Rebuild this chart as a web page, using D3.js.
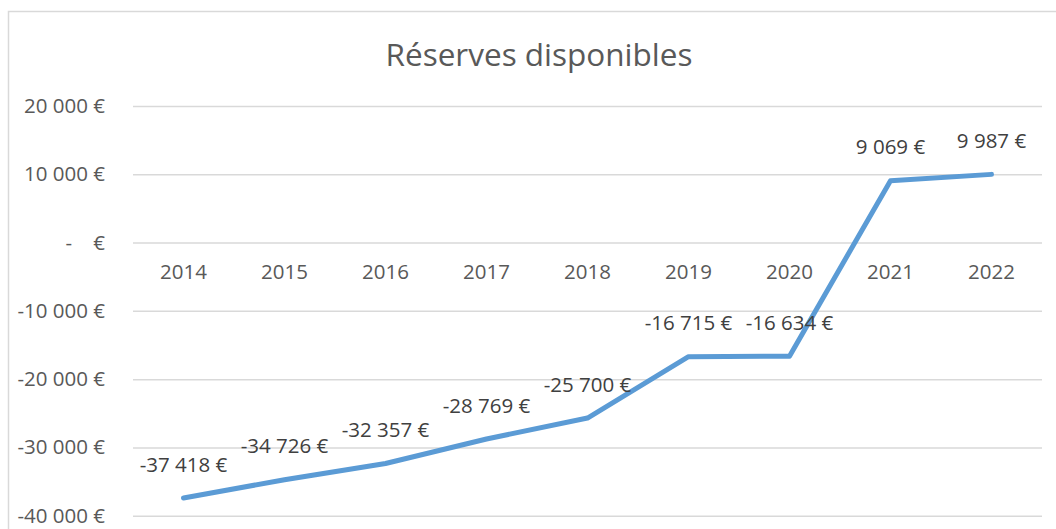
<!DOCTYPE html>
<html>
<head>
<meta charset="utf-8">
<script src="https://cdn.jsdelivr.net/npm/d3@7"></script>
<style>
  html, body { margin: 0; padding: 0; background: #fff; }
  svg { display: block; font-family: "Open Sans", sans-serif; }
</style>
</head>
<body>
<svg id="chart" width="1056" height="529"></svg>
<script>
// chart data
const years = ["2014", "2015", "2016", "2017", "2018", "2019", "2020", "2021", "2022"];
const reserves = [-37418, -34726, -32357, -28769, -25700, -16715, -16634, 9069, 9987];
const yTicks = [-40000, -30000, -20000, -10000, 0, 10000, 20000];
const chartTitle = "Réserves disponibles";

const svg = d3.select("#chart");
const W = 1056, H = 529;
const plot = { left: 133, right: 1042, top: 106, bottom: 515.7 };

// outer chart border (cut off at right/bottom like the reference)
svg.append("rect")
    .attr("x", 8.5).attr("y", 11.5)
    .attr("width", W).attr("height", H)
    .attr("fill", "#fff")
    .attr("stroke", "#d9d9d9")
    .attr("stroke-width", 1.5);

svg.append("text")
    .attr("x", 539).attr("y", 66)
    .attr("text-anchor", "middle")
    .attr("font-size", "31.5px")
    .attr("fill", "#595959")
    .text(chartTitle);

const x = d3.scaleBand()
    .domain(years)
    .range([plot.left, plot.right]);

const y = d3.scaleLinear()
    .domain([-40000, 20000])
    .range([plot.bottom, plot.top]);

// number format with a space as thousands separator
const fr = d3.formatLocale({ decimal: ",", thousands: "\u00a0", grouping: [3], currency: ["", " €"] });
const fmt = v => v === 0 ? "-\u00a0\u00a0\u00a0\u00a0€" : fr.format(",d")(v).replace("−", "-") + " €";

// y axis with gridlines
const yAxis = svg.append("g")
    .attr("transform", `translate(${plot.left},0)`)
    .call(d3.axisLeft(y)
        .tickValues(yTicks)
        .tickSize(-(plot.right - plot.left))
        .tickPadding(28)
        .tickFormat(fmt));
yAxis.select(".domain").remove();
yAxis.selectAll("line").attr("stroke", "#d9d9d9").attr("stroke-width", 1.5);
yAxis.selectAll("text")
    .attr("font-size", "20.5px")
    .attr("font-family", "'Open Sans', sans-serif")
    .attr("fill", "#595959");

// category labels sit just below the zero line
const xAxis = svg.append("g")
    .attr("transform", `translate(0,${y(0)})`)
    .call(d3.axisBottom(x).tickSize(0).tickPadding(22));
xAxis.select(".domain").remove();
xAxis.selectAll("text")
    .attr("font-size", "20.5px")
    .attr("font-family", "'Open Sans', sans-serif")
    .attr("fill", "#595959");

const cx = d => x(d) + x.bandwidth() / 2;

const line = d3.line()
    .x((d, i) => cx(years[i]))
    .y(d => y(d));

svg.append("path")
    .datum(reserves)
    .attr("d", line)
    .attr("fill", "none")
    .attr("stroke", "#5b9bd5")
    .attr("stroke-width", 5)
    .attr("stroke-linejoin", "round")
    .attr("stroke-linecap", "round");

// data labels above each point
svg.selectAll(".label")
    .data(reserves)
    .enter()
    .append("text")
    .attr("class", "label")
    .attr("x", (d, i) => cx(years[i]))
    .attr("y", d => y(d) - 26.5)
    .attr("text-anchor", "middle")
    .attr("font-size", "20.5px")
    .attr("fill", "#404040")
    .text(d => fr.format(",d")(d).replace("−", "-") + " €");
</script>
</body>
</html>
